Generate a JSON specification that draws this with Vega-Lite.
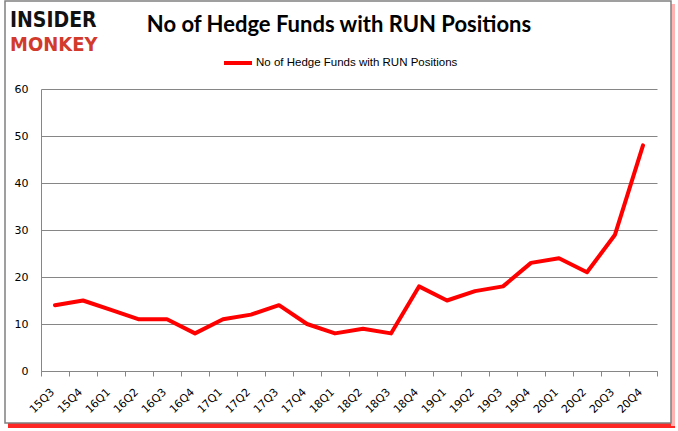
{
  "$schema": "https://vega.github.io/schema/vega-lite/v6.json",
  "width": 616,
  "height": 282,
  "autosize": "none",
  "padding": {"left": 41, "top": 89, "right": 21, "bottom": 60},
  "background": "white",
  "config": {"view": {"stroke": null}},
  "title": {
    "text": "No of Hedge Funds with RUN Positions",
    "font": "Lato",
    "fontSize": 22,
    "fontWeight": "bold",
    "color": "#000000",
    "anchor": "middle",
    "baseline": "bottom",
    "dx": -10,
    "offset": -59
  },
  "data": {
    "values": [
      {"q": "15Q3", "v": 14, "s": "No of Hedge Funds with RUN Positions"},
      {"q": "15Q4", "v": 15, "s": "No of Hedge Funds with RUN Positions"},
      {"q": "16Q1", "v": 13, "s": "No of Hedge Funds with RUN Positions"},
      {"q": "16Q2", "v": 11, "s": "No of Hedge Funds with RUN Positions"},
      {"q": "16Q3", "v": 11, "s": "No of Hedge Funds with RUN Positions"},
      {"q": "16Q4", "v": 8, "s": "No of Hedge Funds with RUN Positions"},
      {"q": "17Q1", "v": 11, "s": "No of Hedge Funds with RUN Positions"},
      {"q": "17Q2", "v": 12, "s": "No of Hedge Funds with RUN Positions"},
      {"q": "17Q3", "v": 14, "s": "No of Hedge Funds with RUN Positions"},
      {"q": "17Q4", "v": 10, "s": "No of Hedge Funds with RUN Positions"},
      {"q": "18Q1", "v": 8, "s": "No of Hedge Funds with RUN Positions"},
      {"q": "18Q2", "v": 9, "s": "No of Hedge Funds with RUN Positions"},
      {"q": "18Q3", "v": 8, "s": "No of Hedge Funds with RUN Positions"},
      {"q": "18Q4", "v": 18, "s": "No of Hedge Funds with RUN Positions"},
      {"q": "19Q1", "v": 15, "s": "No of Hedge Funds with RUN Positions"},
      {"q": "19Q2", "v": 17, "s": "No of Hedge Funds with RUN Positions"},
      {"q": "19Q3", "v": 18, "s": "No of Hedge Funds with RUN Positions"},
      {"q": "19Q4", "v": 23, "s": "No of Hedge Funds with RUN Positions"},
      {"q": "20Q1", "v": 24, "s": "No of Hedge Funds with RUN Positions"},
      {"q": "20Q2", "v": 21, "s": "No of Hedge Funds with RUN Positions"},
      {"q": "20Q3", "v": 29, "s": "No of Hedge Funds with RUN Positions"},
      {"q": "20Q4", "v": 48, "s": "No of Hedge Funds with RUN Positions"}
    ]
  },
  "layer": [
    {
      "data": {"values": [{}]},
      "mark": {"type": "rect", "fill": "#ff0000", "opacity": 0.85},
      "encoding": {
        "x": {"value": -33},
        "x2": {"value": 634},
        "y": {"value": 334},
        "y2": {"value": 339}
      }
    },
    {
      "data": {"values": [{}]},
      "mark": {"type": "rect", "fill": "#ffb3b3"},
      "encoding": {
        "x": {"value": 630},
        "x2": {"value": 634},
        "y": {"value": -85},
        "y2": {"value": 337}
      }
    },
    {
      "data": {"values": [{}]},
      "mark": {"type": "rect", "fill": "white", "fillOpacity": 0, "stroke": "#808080", "strokeWidth": 1.5},
      "encoding": {
        "x": {"value": -36},
        "x2": {"value": 630},
        "y": {"value": -88},
        "y2": {"value": 334}
      }
    },
    {
      "data": {"values": [{"t": "INSIDER"}]},
      "mark": {"type": "text", "font": "'DejaVu Sans Condensed', 'DejaVu Sans'", "fontWeight": "bold", "fontSize": 21, "color": "#111111", "align": "left", "baseline": "alphabetic"},
      "encoding": {
        "text": {"field": "t"},
        "x": {"value": -31},
        "y": {"value": -62}
      }
    },
    {
      "data": {"values": [{"t": "MONKEY"}]},
      "mark": {"type": "text", "font": "'DejaVu Sans Condensed', 'DejaVu Sans'", "fontWeight": "bold", "fontSize": 20, "color": "#d23a2b", "align": "left", "baseline": "alphabetic"},
      "encoding": {
        "text": {"field": "t"},
        "x": {"value": -31},
        "y": {"value": -38}
      }
    },
    {
      "mark": {"type": "line", "strokeWidth": 4, "strokeJoin": "round", "strokeCap": "round"},
      "encoding": {
        "x": {
          "field": "q",
          "type": "ordinal",
          "sort": null,
          "scale": {"type": "band", "paddingInner": 0, "paddingOuter": 0},
          "axis": {
            "title": null,
            "labelAngle": -45,
            "labelFont": "DejaVu Sans",
            "labelFontSize": 11,
            "labelColor": "#000000",
            "domainColor": "#868686",
            "tickColor": "#868686",
            "tickSize": 5,
            "tickBand": "extent",
            "labelPadding": 10,
            "labelOffset": -7,
            "grid": false
          }
        },
        "y": {
          "field": "v",
          "type": "quantitative",
          "scale": {"domain": [0, 60], "nice": false},
          "axis": {
            "title": null,
            "values": [0, 10, 20, 30, 40, 50, 60],
            "labelFont": "DejaVu Sans",
            "labelFontSize": 11,
            "labelColor": "#000000",
            "domainColor": "#868686",
            "gridColor": "#868686",
            "gridWidth": 1,
            "gridOpacity": 1,
            "ticks": false,
            "labelPadding": 13
          }
        },
        "color": {
          "field": "s",
          "type": "nominal",
          "scale": {"range": ["#ff0000"]},
          "legend": {
            "title": null,
            "orient": "none",
            "legendX": 181,
            "legendY": -42,
            "symbolType": "stroke",
            "symbolSize": 784,
            "symbolStrokeWidth": 4,
            "labelFont": "Liberation Sans",
            "labelFontSize": 11.5,
            "labelLimit": 400,
            "labelColor": "#000000",
            "labelOffset": 2
          }
        }
      }
    }
  ]
}
